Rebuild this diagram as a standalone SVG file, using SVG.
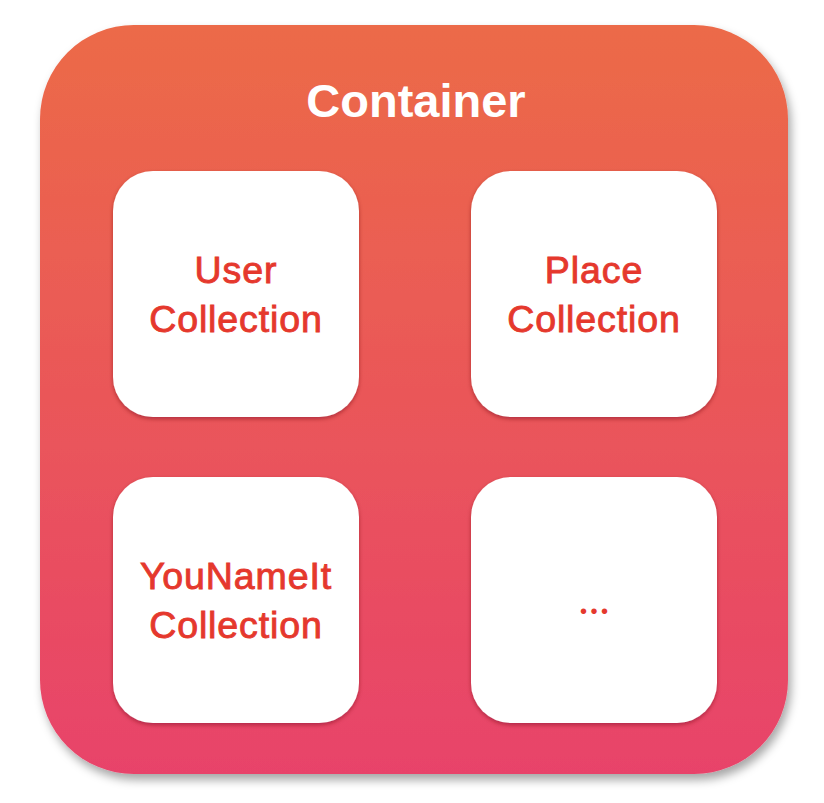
<svg xmlns="http://www.w3.org/2000/svg" width="824" height="803" viewBox="0 0 824 803">
<defs>
<linearGradient id="bg" x1="0" y1="0" x2="0" y2="1">
<stop offset="0" stop-color="#EC6A48"/>
<stop offset="1" stop-color="#E8436A"/>
</linearGradient>
<filter id="sh" x="-10%" y="-10%" width="125%" height="125%">
<feDropShadow dx="3" dy="6" stdDeviation="5" flood-color="#000" flood-opacity="0.35"/>
</filter>
<filter id="bsh" x="-10%" y="-10%" width="125%" height="125%">
<feDropShadow dx="0" dy="2" stdDeviation="2" flood-color="#6a0a1a" flood-opacity="0.45"/>
</filter>
<style>
.box{fill:#ffffff;filter:url(#bsh);}
.lbl{font-family:"Liberation Sans",Arial,sans-serif;font-size:37.5px;fill:#E5382D;stroke:#E5382D;stroke-width:0.9px;text-anchor:middle;letter-spacing:0.9px;}
.dots{font-family:Lato,"Liberation Sans",sans-serif;font-size:36px;font-weight:bold;fill:#E5382D;text-anchor:middle;letter-spacing:2px;}
.title{font-family:"Liberation Sans",Arial,sans-serif;font-size:47px;font-weight:bold;fill:#ffffff;text-anchor:middle;}
</style>
</defs>
<g id="container">
<rect x="40" y="25" width="748" height="749" rx="94" ry="94" fill="url(#bg)" filter="url(#sh)"/>
<text class="title" x="416" y="117">Container</text>
</g>
<g id="user-collection">
<rect class="box" x="113" y="171" width="246" height="246" rx="40" ry="40"/>
<text class="lbl" x="236" y="283">User</text>
<text class="lbl" x="236" y="332">Collection</text>
</g>
<g id="place-collection">
<rect class="box" x="471" y="171" width="246" height="246" rx="40" ry="40"/>
<text class="lbl" x="594" y="283">Place</text>
<text class="lbl" x="594" y="332">Collection</text>
</g>
<g id="younameit-collection">
<rect class="box" x="113" y="477" width="246" height="246" rx="40" ry="40"/>
<text class="lbl" x="236" y="589">YouNameIt</text>
<text class="lbl" x="236" y="638">Collection</text>
</g>
<g id="more">
<rect class="box" x="471" y="477" width="246" height="246" rx="40" ry="40"/>
<text class="dots" x="595" y="614">...</text>
</g>
<g id="connectors"/>
</svg>
